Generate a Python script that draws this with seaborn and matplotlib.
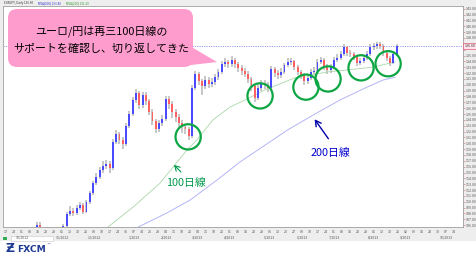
import numpy as np
import pandas as pd
import matplotlib
matplotlib.use("Agg")
import matplotlib.pyplot as plt
import matplotlib.transforms as mtrans
from matplotlib.patches import FancyBboxPatch, Polygon, Rectangle
import seaborn as sns

# ---------------- data ----------------
first_open = 105.0
closes = [106.1, 105.2, 104.6, 104.0, 103.5, 103.8, 104.5, 104.9, 105.9, 107.9,
          108.5, 108.1, 109.0, 109.4, 108.3, 109.9, 111.5, 113.2, 114.3, 115.5,
          116.2, 116.4, 115.8, 120.3, 121.6, 120.6, 119.8, 123.0, 125.0, 127.4,
          128.6, 126.6, 128.2, 127.2, 125.4, 123.8, 122.5, 123.4, 124.2, 127.5,
          126.8, 125.3, 124.5, 123.4, 122.8, 122.4, 121.2, 129.5, 131.8, 130.6,
          129.8, 130.9, 130.2, 130.5, 131.3, 132.2, 133.6, 133.9, 133.5, 134.2,
          133.6, 132.9, 132.4, 131.9, 131.0, 129.8, 127.8, 129.4, 130.3, 130.0,
          129.4, 132.7, 132.0, 131.7, 132.2, 133.3, 133.9, 134.0, 133.0, 132.2,
          131.7, 130.6, 131.2, 132.2, 132.4, 133.9, 134.2, 133.2, 132.5, 133.0,
          134.3, 134.6, 135.2, 136.4, 135.5, 135.2, 134.8, 133.8, 134.1, 134.6,
          135.3, 136.4, 136.6, 136.9, 136.7, 135.5, 134.6, 133.8, 135.2, 136.6]
highs = [106.5, 106.6, 105.5, 104.9, 104.3, 104.2, 104.8, 105.3, 106.2, 108.3,
         109.2, 109.0, 109.4, 109.9, 109.8, 110.3, 111.9, 113.6, 114.9, 116.0,
         117.0, 117.1, 116.9, 120.8, 122.3, 122.0, 121.0, 123.4, 125.6, 127.9,
         129.3, 129.0, 128.8, 128.7, 127.6, 125.8, 124.2, 123.9, 124.8, 128.0,
         128.1, 127.2, 125.9, 125.0, 124.0, 123.3, 122.8, 130.0, 132.4, 132.2,
         131.0, 131.5, 131.4, 131.2, 131.8, 132.7, 134.0, 134.5, 134.3, 134.9,
         134.6, 133.9, 133.3, 132.9, 132.3, 131.4, 130.2, 129.9, 130.9, 130.9,
         130.4, 133.2, 133.1, 132.5, 132.8, 133.8, 134.5, 134.6, 134.3, 133.4,
         132.6, 132.0, 131.7, 132.7, 133.0, 134.4, 134.8, 134.5, 133.6, 133.6,
         134.8, 135.2, 135.7, 137.0, 136.6, 136.0, 135.6, 135.1, 134.6, 135.1,
         135.8, 136.9, 137.2, 137.4, 137.4, 137.0, 135.8, 134.9, 135.6, 136.9]
lows = [104.7, 104.9, 104.2, 103.6, 103.1, 103.2, 103.5, 104.2, 104.6, 105.6,
        107.5, 107.6, 107.8, 108.6, 107.9, 108.0, 109.6, 111.2, 112.8, 113.9,
        115.0, 115.6, 114.9, 115.5, 119.8, 119.9, 119.0, 119.5, 122.6, 124.6,
        126.9, 125.9, 126.0, 126.6, 124.8, 123.2, 121.8, 121.9, 122.9, 123.8,
        125.9, 124.4, 123.6, 122.8, 121.7, 121.6, 120.5, 120.9, 129.1, 129.9,
        128.2, 129.3, 129.5, 129.6, 130.0, 130.9, 131.8, 133.0, 132.8, 133.0,
        132.9, 132.2, 131.7, 131.3, 130.3, 129.0, 127.0, 127.4, 129.0, 129.3,
        128.7, 129.1, 131.3, 131.0, 131.2, 131.9, 133.0, 133.3, 132.5, 131.6,
        131.0, 130.0, 130.1, 130.8, 131.6, 132.1, 133.5, 132.6, 131.9, 132.0,
        132.7, 133.9, 134.2, 134.9, 135.0, 134.7, 134.2, 133.2, 133.3, 133.8,
        134.2, 135.0, 136.0, 136.2, 136.1, 134.9, 134.0, 133.2, 133.5, 135.0]

ma100_idx = [20.0, 29.1, 37.3, 45.5, 48.5, 53.3, 58.5, 63.0, 69.0, 78.2, 88.2, 93.3, 101.5, 108.5]
ma100_val = [105.0, 109.1, 113.2, 118.9, 120.6, 124.0, 126.2, 127.4, 129.1, 131.2, 132.2, 132.5, 133.0, 133.9]
ma200_idx = [28.2, 39.4, 46.4, 54.5, 61.5, 76.0, 83.6, 91.8, 100.0, 104.8, 108.5]
ma200_val = [105.0, 108.1, 110.3, 113.7, 116.8, 122.3, 124.8, 127.4, 129.6, 130.8, 131.3]

circle_idx = [45.8, 67.6, 81.5, 88.2, 98.2, 106.4]
circle_val = [121.1, 128.1, 129.6, 131.0, 132.9, 133.6]

day_labels = ["17", "24", "01", "08", "15", "22", "29", "05", "12", "19", "26", "03", "10", "17",
              "24", "31", "07", "14", "21", "28", "04", "11", "18", "25", "04", "11", "18", "25",
              "01", "08", "15", "22", "29", "06", "13", "20", "27", "03", "10", "17", "24", "01",
              "08", "15", "22", "29", "05", "12", "19", "26", "02", "09", "16", "23", "30", "07", "14"]
month_pos = [2, 7, 11, 16, 20, 24, 28, 33, 37, 41, 46, 50, 55]
month_labels = ["10/2012", "11/2012", "12/2012", "1/2013", "2/2013", "3/2013", "4/2013",
                "5/2013", "6/2013", "7/2013", "8/2013", "9/2013", "10/2013"]
ytick_vals = list(range(106, 144))

title_line1 = "ユーロ/円は再三100日線の"
title_line2 = "サポートを確認し、切り返してきた"
label_100 = "100日線"
label_200 = "200日線"

# ---------------- style ----------------
sns.set_style("white")
plt.rcParams['font.family'] = ['Noto Sans CJK JP', 'DejaVu Sans']

W, H = 477, 258
fig = plt.figure(figsize=(W / 100, H / 100), dpi=100)
fig.patch.set_facecolor('white')

# background panel (pixel coords)
bg = fig.add_axes([0, 0, 1, 1], zorder=0)
bg.set_xlim(0, W); bg.set_ylim(H, 0); bg.axis('off')
bg.add_patch(Rectangle((0, 0), W, 241, fc='#EEEEEE', ec='none'))
bg.add_patch(Rectangle((11, 236), 42, 4.5, fc='white', ec='#C8C8C8', lw=0.4))
bg.add_patch(Rectangle((3, 236.5), 4, 3.5, fc='#33AA55', ec='none'))

# main chart axes
L, R, T, B = 3, 463, 6, 227
ax = fig.add_axes([L / W, (H - B) / H, (R - L) / W, (B - T) / H], zorder=1)
ax.set_facecolor('white')

idx = np.arange(len(closes))
c = np.array(closes)
o = np.array([first_open] + closes[:-1])
hi = np.array(highs)
lo = np.array(lows)
up = c >= o

ax.vlines(idx, lo, hi, color='#B8B8B8', lw=1.1, zorder=2)
body_bottom = np.minimum(o, c)
body_h = np.maximum(np.abs(c - o), 0.12)
ax.bar(idx[up], body_h[up], bottom=body_bottom[up], width=0.55, color='#4A4AFF', lw=0, zorder=3)
ax.bar(idx[~up], body_h[~up], bottom=body_bottom[~up], width=0.55, color='#FF6060', lw=0, zorder=3)

ma100 = pd.DataFrame({'i': ma100_idx, 'v': ma100_val})
ma200 = pd.DataFrame({'i': ma200_idx, 'v': ma200_val})
sns.lineplot(data=ma100, x='i', y='v', ax=ax, color='#A8D8A8', lw=0.6, zorder=2.5, sort=True)
sns.lineplot(data=ma200, x='i', y='v', ax=ax, color='#B4B4F8', lw=0.7, zorder=2.5, sort=True)

ax.axhline(closes[-1], color='#9A9AF0', ls=(0, (1.2, 1.2)), lw=0.7, zorder=1.5)

ax.scatter(circle_idx, circle_val, s=330, facecolors='none', edgecolors='#0CA643',
           linewidths=1.6, zorder=6)

px = 3.3
ax.set_xlim((L - 37) / px, (R - 37) / px)
ax.set_ylim(105.69, 143.47)
ax.set_xlabel(''); ax.set_ylabel('')

# axes ticks
ax.yaxis.tick_right()
ax.set_yticks(ytick_vals)
ylabels = [f"{v:.2f}" if abs(v - closes[-1]) > 0.6 else "" for v in ytick_vals]
ax.set_yticklabels(ylabels, fontsize=2.6, color='#555555')
week_pos = [(6 + 8 * k - 37) / px for k in range(len(day_labels))]
ax.set_xticks(week_pos)
ax.set_xticklabels(day_labels, fontsize=2.6, color='#555555')
ax.tick_params(axis='both', length=1.5, width=0.4, pad=0.8, colors='#D06A6A', labelcolor='#555555')
for s in ax.spines.values():
    s.set_color('#9E9E9E'); s.set_linewidth(0.6)
ax.grid(False)

trans_x = mtrans.blended_transform_factory(ax.transData, ax.transAxes)
for k, lab in zip(month_pos, month_labels):
    ax.text(week_pos[k], -0.04, lab, transform=trans_x, fontsize=2.6, color='#555555',
            ha='center', va='top')

trans_y = mtrans.blended_transform_factory(ax.transAxes, ax.transData)
ax.text(1.003, closes[-1], f"{closes[-1]:.2f}", transform=trans_y, fontsize=2.6, color='#333333',
        ha='left', va='center', zorder=7,
        bbox=dict(boxstyle='square,pad=0.25', fc='#FFE4EC', ec='#E05A7A', lw=0.5))

# overlay annotations (pixel coordinates)
ov = fig.add_axes([0, 0, 1, 1], zorder=5)
ov.set_xlim(0, W); ov.set_ylim(H, 0); ov.axis('off'); ov.patch.set_alpha(0)

pink = '#FF9CCE'
ov.add_patch(FancyBboxPatch((8, 9), 185, 58, boxstyle="round,pad=0,rounding_size=9",
                            fc=pink, ec='none'))
ov.add_patch(Polygon([(183, 42), (217, 62), (174, 67)], closed=True, fc=pink, ec='none'))
ov.text(101, 31, title_line1, fontsize=7.9, ha='center', va='center', color='black')
ov.text(101, 49, title_line2, fontsize=7.9, ha='center', va='center', color='black')

ov.text(186, 183, label_100, fontsize=7.8, ha='center', va='center', color='#00994C')
ov.annotate('', xy=(172, 163), xytext=(183, 174),
            arrowprops=dict(arrowstyle='->,head_length=0.35,head_width=0.2', color='#00994C', lw=0.8))
ov.text(330, 153, label_200, fontsize=7.8, ha='center', va='center', color='#0000CC')
ov.annotate('', xy=(313, 117), xytext=(330, 141),
            arrowprops=dict(arrowstyle='->,head_length=0.4,head_width=0.22', color='#0000AA', lw=1.0))

# header strip text
ov.text(4, 3.3, "EURJPY, Daily 136.60", fontsize=2.2, color='#333333', va='center')
ov.text(38, 3.3, "MVA(100) 133.86", fontsize=2.2, color='#3333CC', va='center')
ov.text(66, 3.3, "MVA(200) 131.29", fontsize=2.2, color='#339933', va='center')

# logo
ov.text(6, 249, "Ƶ", fontsize=9, fontweight='bold', color='#1F3A93', va='center', family='DejaVu Sans')
ov.text(17, 249.5, "FXCM", fontsize=6.6, fontweight='bold', color='#1F3A93', va='center', family='DejaVu Sans')
ov.text(46, 244.5, "™", fontsize=3, color='#1F3A93', va='center', family='DejaVu Sans')

fig.savefig("out.png", dpi=100)
